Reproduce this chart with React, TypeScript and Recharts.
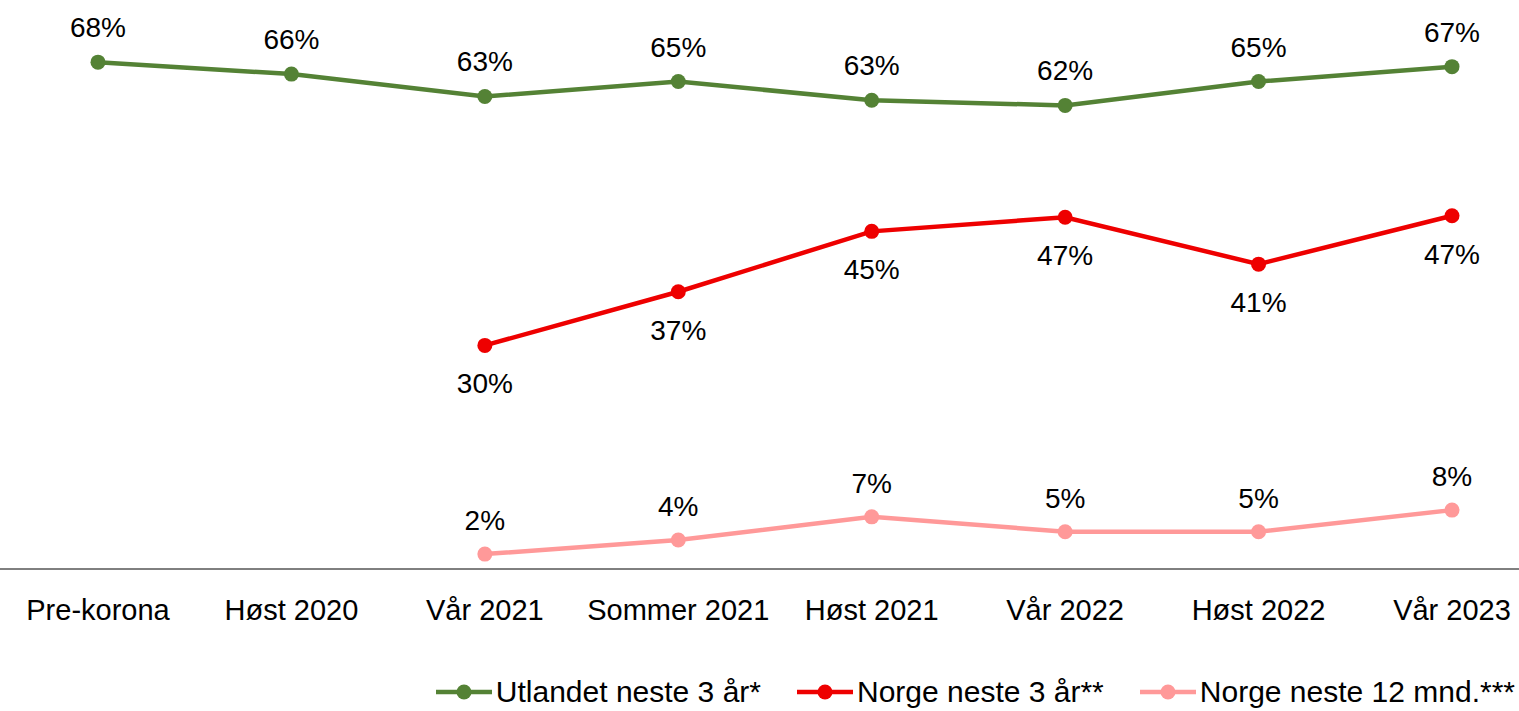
import { LineChart, Line, XAxis, YAxis, LabelList, Legend } from "recharts"

const periods = ["Pre-korona", "Høst 2020", "Vår 2021", "Sommer 2021", "Høst 2021", "Vår 2022", "Høst 2022", "Vår 2023"]
const utlandet3 = [68.0, 66.4, 63.4, 65.4, 62.9, 62.2, 65.4, 67.4]
const norge3 = [null, null, 30.0, 37.2, 45.3, 47.2, 40.9, 47.4]
const norge12 = [null, null, 2.0, 3.9, 7.0, 5.0, 5.0, 7.9]

const data = periods.map((name, i) => ({
  name,
  utlandet3: utlandet3[i],
  norge3: norge3[i],
  norge12: norge12[i],
}))

const series = [
  { key: "utlandet3", label: "Utlandet neste 3 år*", color: "#548235" },
  { key: "norge3", label: "Norge neste 3 år**", color: "#EE0000" },
  { key: "norge12", label: "Norge neste 12 mnd.***", color: "#FF9999" },
]

const FONT = "'Liberation Sans', Arial, sans-serif"

const pct = (v: any) => (v == null ? "" : `${Math.round(v)}%`)

function LegendContent() {
  return (
    <div style={{ display: "flex", justifyContent: "flex-end", alignItems: "center", paddingRight: 4, paddingTop: 16, fontFamily: FONT, fontSize: 30, color: "#000" }}>
      {series.map((s, i) => (
        <div key={s.key} style={{ display: "flex", alignItems: "center", marginLeft: i === 0 ? 0 : 36 }}>
          <svg width={56} height={20} style={{ marginRight: 4 }}>
            <line x1={0} y1={10} x2={56} y2={10} stroke={s.color} strokeWidth={4.5} />
            <circle cx={28} cy={10} r={7.5} fill={s.color} />
          </svg>
          <span>{s.label}</span>
        </div>
      ))}
    </div>
  )
}

export default function App() {
  return (
    <div style={{ position: "absolute", left: 0, top: 0, background: "#fff" }}>
      <LineChart width={1519} height={711} data={data} margin={{ top: 10, right: 0, left: 0, bottom: 0 }}>
        <XAxis
          dataKey="name"
          scale="point"
          padding={{ left: 98, right: 67 }}
          axisLine={{ stroke: "#000", strokeWidth: 1 }}
          tickLine={false}
          tickMargin={24}
          height={90}
          interval={0}
          tick={{ fill: "#000", fontSize: 29, fontFamily: FONT }}
        />
        <YAxis hide domain={[0, 75]} />
        <Legend verticalAlign="bottom" height={52} content={<LegendContent />} />
        {series.map((s, idx) => (
          <Line
            key={s.key}
            dataKey={s.key}
            stroke={s.color}
            strokeWidth={4.5}
            dot={{ r: 7.5, fill: s.color, stroke: "none" }}
            activeDot={false}
            connectNulls={false}
            isAnimationActive={false}
          >
            <LabelList
              dataKey={s.key}
              position={idx === 1 ? "bottom" : "top"}
              offset={idx === 1 ? 28 : idx === 0 ? 25 : 24}
              formatter={pct}
              style={{ fill: "#000", fontSize: 28, fontFamily: FONT }}
            />
          </Line>
        ))}
      </LineChart>
    </div>
  )
}
